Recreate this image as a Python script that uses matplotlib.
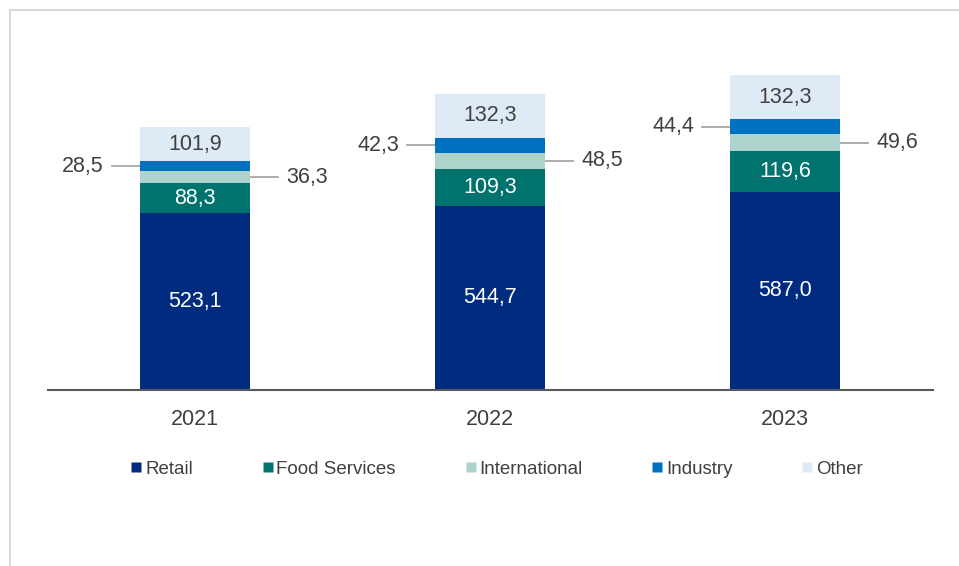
import numpy as np
import matplotlib.pyplot as plt
from matplotlib.lines import Line2D

plt.rcParams['font.family'] = ['Liberation Sans', 'DejaVu Sans']

# данные
years = ['2021', '2022', '2023']
series = ['Retail', 'Food Services', 'International', 'Industry', 'Other']
retail = [523.1, 544.7, 587.0]
food = [88.3, 109.3, 119.6]
intl = [36.3, 48.5, 49.6]
industry = [28.5, 42.3, 44.4]
other = [101.9, 132.3, 132.3]

colors = ['#002B7F', '#00736E', '#AED3CC', '#0070C0', '#DEEBF7']
txt = '#404040'
fs = 15.5

def fmt(v):
    return f'{v:.1f}'.replace('.', ',')

fig = plt.figure(figsize=(9.59, 5.66), dpi=100)
W, H = 959, 566
ax = fig.add_axes([47.5 / W, 176 / H, 885 / W, 338 / H])

x = np.arange(len(years))
width = 0.373
data = [retail, food, intl, industry, other]
bottom = np.zeros(len(years))
for vals, c in zip(data, colors):
    ax.bar(x, vals, width, bottom=bottom, color=c, edgecolor='none', zorder=2)
    bottom += np.array(vals)

# подписи внутри и выноски
b = np.zeros(len(years))
for k, (vals, col) in enumerate(zip(data, colors)):
    for i, v in enumerate(vals):
        mid = b[i] + v / 2
        if k in (0, 1):
            ax.text(x[i], mid, fmt(v), ha='center', va='center', color='white', fontsize=fs)
        elif k == 4:
            ax.text(x[i], mid, fmt(v), ha='center', va='center', color=txt, fontsize=fs)
        elif k == 3:
            # Industry слева
            x0 = x[i] - width / 2
            ax.plot([x0 - 0.095, x0], [mid, mid], color='#A6A6A6', lw=1.3, zorder=1)
            ax.text(x0 - 0.122, mid, fmt(v), ha='right', va='center', color=txt, fontsize=fs)
        elif k == 2:
            # International справа
            x1 = x[i] + width / 2
            ax.plot([x1, x1 + 0.095], [mid, mid], color='#A6A6A6', lw=1.3, zorder=1)
            ax.text(x1 + 0.122, mid, fmt(v), ha='left', va='center', color=txt, fontsize=fs)
    b += np.array(vals)

ax.set_xlim(-0.5, 2.5)
ax.set_ylim(0, 1000)
ax.set_xticks(x)
ax.set_xticklabels(years, fontsize=fs, color=txt)
ax.tick_params(axis='x', length=0, pad=13.5)
ax.set_yticks([])
for s in ['top', 'right', 'left']:
    ax.spines[s].set_visible(False)
ax.spines['bottom'].set_color('#595959')
ax.spines['bottom'].set_linewidth(1.5)
ax.spines['bottom'].set_zorder(3)

handles = [Line2D([], [], marker='s', linestyle='none', markersize=7.5,
                  markerfacecolor=c, markeredgecolor='none') for c in colors]
fig.legend(handles, series, loc='center', bbox_to_anchor=(497 / W, 1 - 469 / H),
           ncol=5, frameon=False, fontsize=13.5, labelcolor=txt,
           handlelength=0.55, handletextpad=0.2, columnspacing=3.7)

# рамка
fig.add_artist(Line2D([10 / W, 1], [1 - 10 / H, 1 - 10 / H], color='#D9D9D9', lw=1.5))
fig.add_artist(Line2D([10 / W, 10 / W], [0, 1 - 10 / H], color='#D9D9D9', lw=1.5))

fig.savefig('out.png', dpi=100, facecolor='white')
